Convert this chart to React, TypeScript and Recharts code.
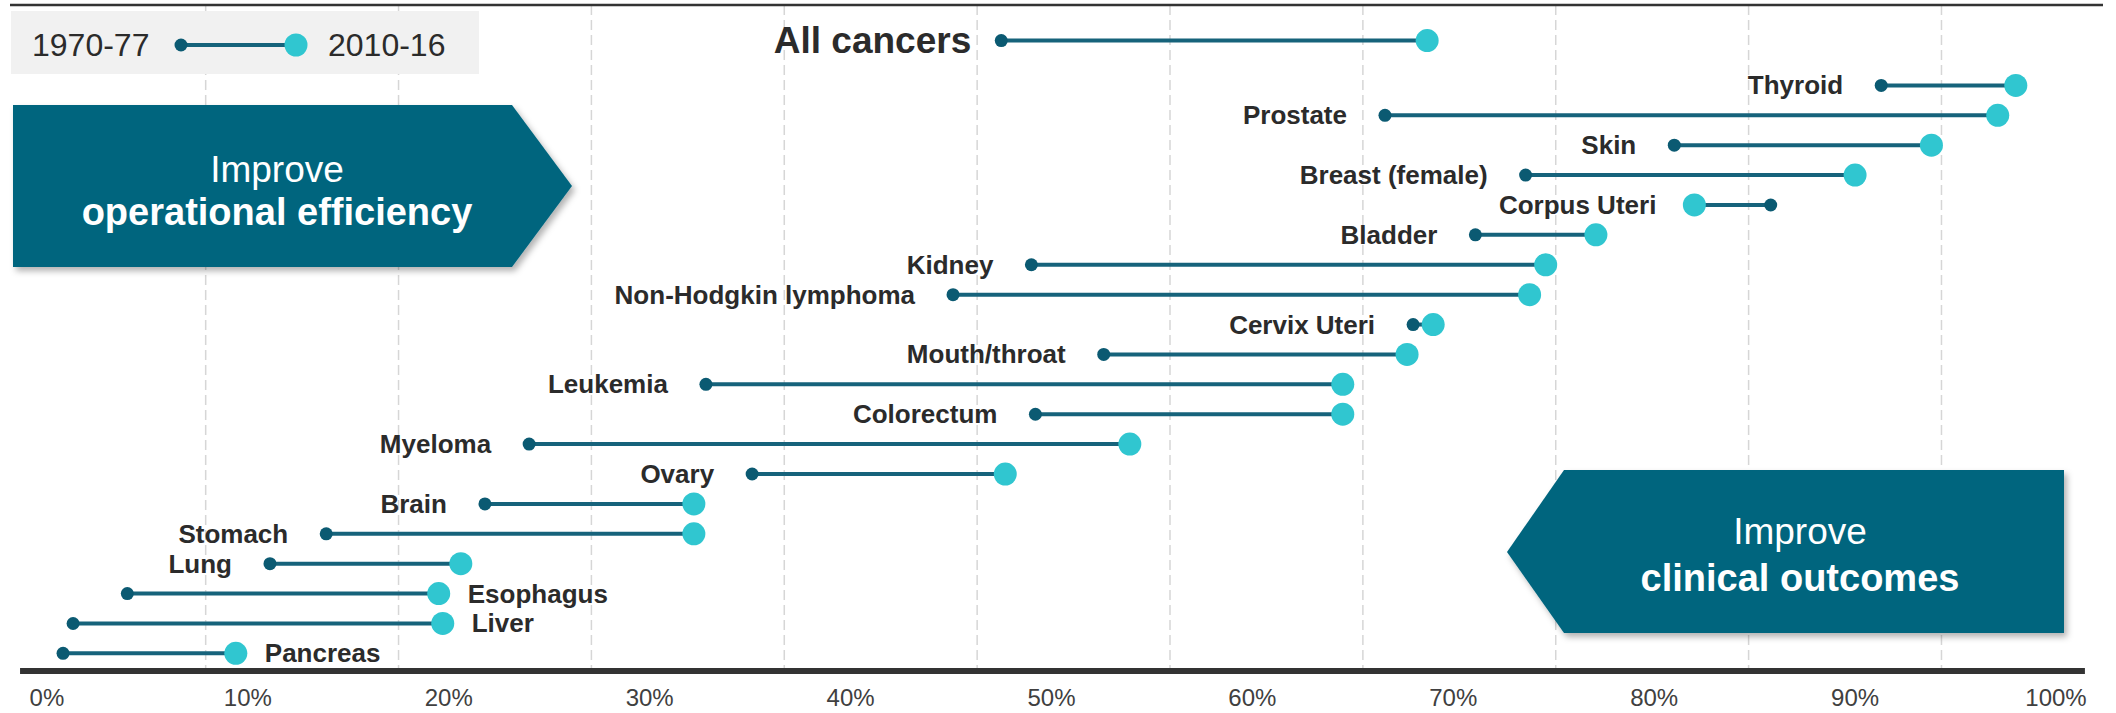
import React from 'react';
import { ComposedChart, Scatter, XAxis, YAxis, CartesianGrid, ReferenceLine } from 'recharts';

// 5-year relative survival, 1970-77 vs 2010-16
const cancers = [
  'All cancers', 'Thyroid', 'Prostate', 'Skin', 'Breast (female)', 'Corpus Uteri', 'Bladder',
  'Kidney', 'Non-Hodgkin lymphoma', 'Cervix Uteri', 'Mouth/throat', 'Leukemia', 'Colorectum',
  'Myeloma', 'Ovary', 'Brain', 'Stomach', 'Lung', 'Esophagus', 'Liver', 'Pancreas',
];
const survival1970 = [47.5, 91.3, 66.6, 81.0, 73.6, 85.8, 71.1, 49.0, 45.1, 68.0, 52.6, 32.8, 49.2, 24.0, 35.1, 21.8, 13.9, 11.1, 4.0, 1.3, 0.8];
const survival2010 = [68.7, 98.0, 97.1, 93.8, 90.0, 82.0, 77.1, 74.6, 73.8, 69.0, 67.7, 64.5, 64.5, 53.9, 47.7, 32.2, 32.2, 20.6, 19.5, 19.7, 9.4];
const xTicks = [0, 10, 20, 30, 40, 50, 60, 70, 80, 90, 100];
const gridValues = [-1.74, 7.9, 17.5, 27.1, 36.7, 46.3, 55.9, 65.5, 75.1, 84.7, 94.3];
const labelsOnRight = ['Esophagus', 'Liver', 'Pancreas'];

const DARK = '#0b5a72';
const LIGHT = '#30c6d0';
const LINK = '#16637b';
const BOX = '#03657e';
const TEXT = '#2b2b2b';
const FONT = '"Liberation Sans", Arial, sans-serif';

const X_DOMAIN: [number, number] = [-1.84, 102.34];
const Y_DOMAIN: [number, number] = [-1.19, 21.09];

// "All cancers" sits apart from the rest
const rowY = (i: number) => (i === 0 ? 0 : i + 0.5);

const rows = cancers.map((name, i) => ({
  name,
  y: rowY(i),
  early: survival1970[i],
  late: survival2010[i],
}));

const labelPoints = rows.map((r) => {
  const right = labelsOnRight.includes(r.name);
  return {
    name: r.name,
    y: r.y,
    x: right ? Math.max(r.early, r.late) : Math.min(r.early, r.late),
    side: right ? 'right' : 'left',
  };
});

const renderDot = (props: any) => {
  const { cx, cy, payload } = props;
  if (cx == null || cy == null) return null;
  const late = payload.kind === 'late';
  return <circle cx={cx} cy={cy} r={late ? 11.5 : 6.5} fill={late ? LIGHT : DARK} />;
};

const renderLabel = (props: any) => {
  const { cx, cy, payload } = props;
  if (cx == null || cy == null) return null;
  const big = payload.name === 'All cancers';
  const right = payload.side === 'right';
  return (
    <text
      x={right ? cx + 29 : cx - (big ? 30 : 38)}
      y={cy}
      textAnchor={right ? 'start' : 'end'}
      dominantBaseline="central"
      fontFamily={FONT}
      fontWeight="bold"
      fontSize={big ? 37 : 26}
      fill={TEXT}
    >
      {payload.name}
    </text>
  );
};

const Overlay = () => (
  <svg
    width={2116}
    height={713}
    style={{ position: 'absolute', left: 0, top: 0, pointerEvents: 'none' }}
    fontFamily={FONT}
  >
    <defs>
      <filter id="shadow" x="-10%" y="-10%" width="120%" height="130%">
        <feDropShadow dx="3" dy="4" stdDeviation="3" floodColor="#000" floodOpacity="0.3" />
      </filter>
    </defs>

    {/* legend */}
    <rect x={11} y={11} width={468} height={63} fill="#f1f1f1" />
    <text x={32} y={45} dominantBaseline="central" fontSize={32} fill={TEXT}>1970-77</text>
    <line x1={181} y1={45} x2={296} y2={45} stroke={LINK} strokeWidth={4} />
    <circle cx={181} cy={45} r={6.5} fill={DARK} />
    <circle cx={296} cy={45} r={11.5} fill={LIGHT} />
    <text x={328} y={45} dominantBaseline="central" fontSize={32} fill={TEXT}>2010-16</text>

    {/* left arrow */}
    <polygon points="13,105 512,105 572,186 512,267 13,267" fill={BOX} filter="url(#shadow)" />
    <text x={277} y={169} textAnchor="middle" dominantBaseline="central" fontSize={37} fill="#fff">Improve</text>
    <text x={277} y={212} textAnchor="middle" dominantBaseline="central" fontSize={38} fontWeight="bold" fill="#fff">
      operational efficiency
    </text>

    {/* right arrow */}
    <polygon points="1564,470 2064,470 2064,633 1564,633 1507,552" fill={BOX} filter="url(#shadow)" />
    <text x={1800} y={531} textAnchor="middle" dominantBaseline="central" fontSize={37} fill="#fff">Improve</text>
    <text x={1800} y={578} textAnchor="middle" dominantBaseline="central" fontSize={38} fontWeight="bold" fill="#fff">
      clinical outcomes
    </text>
  </svg>
);

const App: React.FC = () => {
  return (
    <div style={{ position: 'absolute', left: 0, top: 0, width: 2116, height: 713, background: '#fff' }}>
      <ComposedChart width={2116} height={713} margin={{ top: 5, right: 13, bottom: 2, left: 10 }}>
        <CartesianGrid
          horizontal={false}
          verticalValues={gridValues}
          stroke="#d6d6d6"
          strokeWidth={1.5}
          strokeDasharray="10 5"
        />
        <XAxis
          type="number"
          dataKey="x"
          domain={X_DOMAIN}
          allowDataOverflow
          ticks={xTicks}
          tickFormatter={(v) => `${v}%`}
          axisLine={false}
          tickLine={false}
          tickMargin={12}
          height={40}
          tick={{ fontSize: 24, fill: '#404040', fontFamily: FONT }}
        />
        <YAxis type="number" dataKey="y" domain={Y_DOMAIN} allowDataOverflow reversed hide />
        <ReferenceLine y={Y_DOMAIN[0]} stroke="#333" strokeWidth={2.5} ifOverflow="visible" />
        <ReferenceLine
          segment={[{ x: -1.34, y: Y_DOMAIN[1] }, { x: 101.44, y: Y_DOMAIN[1] }]}
          stroke="#333"
          strokeWidth={6}
          ifOverflow="visible"
        />
        {rows.map((r) => (
          <Scatter
            key={r.name}
            data={[
              { x: r.early, y: r.y, kind: 'early' },
              { x: r.late, y: r.y, kind: 'late' },
            ]}
            line={{ stroke: LINK, strokeWidth: 4 }}
            lineType="joint"
            shape={renderDot}
            isAnimationActive={false}
          />
        ))}
        <Scatter data={labelPoints} shape={renderLabel} isAnimationActive={false} />
      </ComposedChart>
      <Overlay />
    </div>
  );
};

export default App;
